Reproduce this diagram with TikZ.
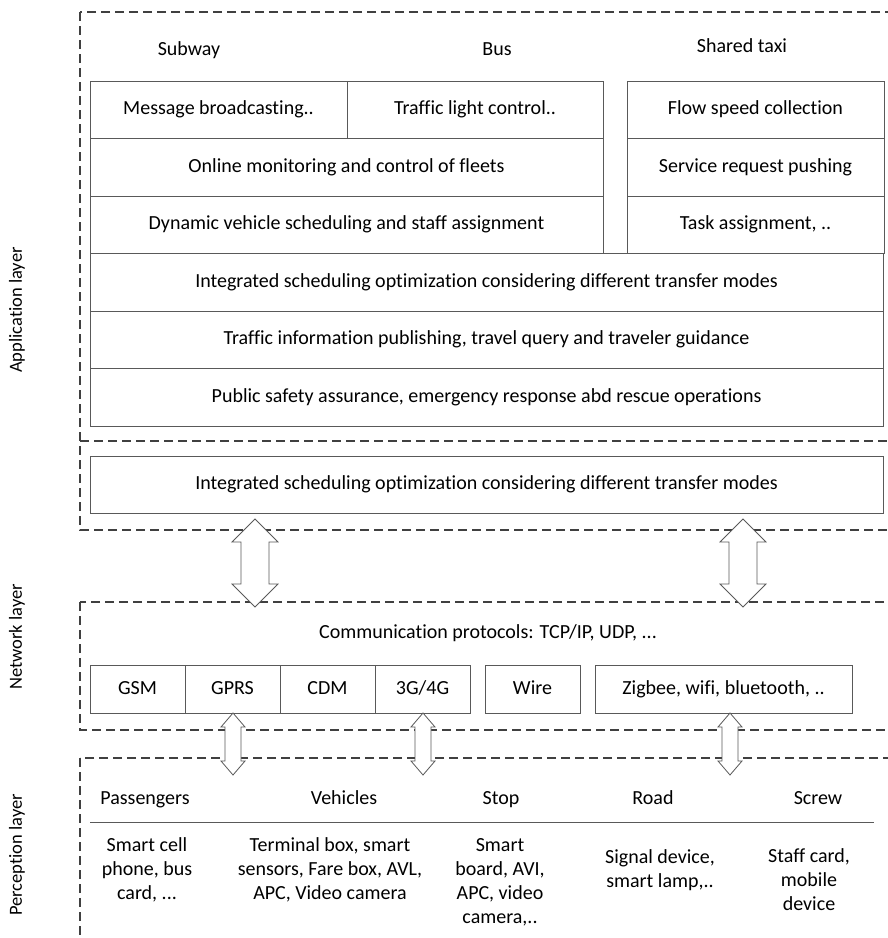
\documentclass[tikz,border=0pt]{standalone}
\usepackage{fontspec}
\setmainfont[Ligatures=NoCommon]{Carlito}
\usepackage{tikz}
\usetikzlibrary{positioning,calc}

\tikzset{
  box/.style={draw=black!65, line width=0.9pt, rectangle, inner sep=0pt, outer sep=0pt,
    minimum height=57.5pt, text height=14pt, text depth=4pt, font=\fontsize{20}{24}\selectfont},
  layerbox/.style={draw=black!75, line width=1.1pt, dash pattern=on 9pt off 5pt},
  title/.style={text height=14pt, text depth=4pt, font=\fontsize{20}{24}\selectfont},
  side/.style={rotate=90, font=\fontsize{18.5}{22}\selectfont},
  item/.style={align=center, font=\fontsize{20}{24}\selectfont},
  blockarrow/.style={draw=black!65, line width=0.8pt, fill=white}
}
% vertical double block arrow: x, top y, bottom y, head half width, shaft half width, head length
\newcommand{\updown}[6]{%
  \draw[blockarrow] (#1,#2) -- (#1+#4,#2+#6) -- (#1+#5,#2+#6) -- (#1+#5,#3-#6) -- (#1+#4,#3-#6)
    -- (#1,#3) -- (#1-#4,#3-#6) -- (#1-#5,#3-#6) -- (#1-#5,#2+#6) -- (#1-#4,#2+#6) -- cycle;}

\begin{document}
\begin{tikzpicture}[x=1pt, y=-1pt]
  \useasboundingbox (0,0) rectangle (888,938);
  \clip (0,0) rectangle (888,938);

  % layers
  \draw[layerbox] (80,12) rectangle (900,530);
  \draw[layerbox] (80,441) -- (900,441);
  \draw[layerbox] (80,602) rectangle (900,730);
  \draw[layerbox] (80,758) rectangle (900,960);

  \node[side] (app) at (17,310) {Application layer};
  \node[side] (net) at (17,637) {Network layer};
  \node[side] (per) at (17,855) {Perception layer};

  % application layer
  \node[title] (subway) at (189,50) {Subway};
  \node[title] (bus) at (497,50) {Bus};
  \node[title] (taxi) at (742,47) {Shared taxi};

  \node[box, minimum width=257pt, anchor=north west] (msg) at (90,81) {Message broadcasting..};
  \node[box, minimum width=256pt, right=0pt of msg] (light) {Traffic light control..};
  \node[box, minimum width=513pt, anchor=north west] (online) at (msg.south west) {Online monitoring and control of fleets};
  \node[box, minimum width=513pt, anchor=north west] (dyn) at (online.south west) {Dynamic vehicle scheduling and staff assignment};

  \node[box, minimum width=257pt, anchor=north west] (flow) at (627,81) {Flow speed collection};
  \node[box, minimum width=257pt, below=0pt of flow] (serv) {Service request pushing};
  \node[box, minimum width=257pt, below=0pt of serv] (task) {Task assignment, ..};

  \node[box, minimum width=793pt, anchor=north west] (integ) at (dyn.south west) {Integrated scheduling optimization considering different transfer modes};
  \node[box, minimum width=793pt, below=0pt of integ] (info) {Traffic information publishing, travel query and traveler guidance};
  \node[box, minimum width=793pt, below=0pt of info] (safe) {Public safety assurance, emergency response abd rescue operations};

  \node[box, minimum width=793pt, anchor=north west] (integb) at (90,456) {Integrated scheduling optimization considering different transfer modes};

  % network layer
  \node[title] (proto) at (488,633) {Communication protocols: TCP/IP, UDP, ...};
  \node[box, minimum width=95pt, minimum height=48pt, anchor=north west] (gsm) at (90,665) {GSM};
  \node[box, minimum width=95pt, minimum height=48pt, right=0pt of gsm] (gprs) {GPRS};
  \node[box, minimum width=95pt, minimum height=48pt, right=0pt of gprs] (cdm) {CDM};
  \node[box, minimum width=95pt, minimum height=48pt, right=0pt of cdm] (g34) {3G/4G};
  \node[box, minimum width=95pt, minimum height=48pt, right=15pt of g34] (wire) {Wire};
  \node[box, minimum width=257pt, minimum height=48pt, right=15pt of wire] (zig) {Zigbee, wifi, bluetooth, ..};

  \updown{255}{519}{607}{23}{14}{23}
  \updown{743}{519}{607}{23}{14}{23}
  \updown{233}{713}{775}{12}{8}{14}
  \updown{423}{713}{775}{12}{8}{14}
  \updown{730}{713}{775}{12}{8}{14}

  % perception layer
  \node[title] (pass) at (145,799) {Passengers};
  \node[title] (veh) at (344,799) {Vehicles};
  \node[title] (stop) at (501,799) {Stop};
  \node[title] (road) at (653,799) {Road};
  \node[title] (screw) at (818,799) {Screw};
  \coordinate (rulel) at (90,822);
  \coordinate (ruler) at (874,822);
  \draw[black!65, line width=0.9pt] (rulel) -- (ruler);

  \node[item] (passd) at (147,870) {Smart cell\\phone, bus\\card, ...};
  \node[item] (vehd) at (330,870) {Terminal box, smart\\sensors, Fare box, AVL,\\APC, Video camera};
  \node[item] (stopd) at (500,882) {Smart\\board, AVI,\\APC, video\\camera,..};
  \node[item] (roadd) at (660,870) {Signal device,\\smart lamp,..};
  \node[item] (screwd) at (809,880) {Staff card,\\mobile\\device};
\end{tikzpicture}
\end{document}
